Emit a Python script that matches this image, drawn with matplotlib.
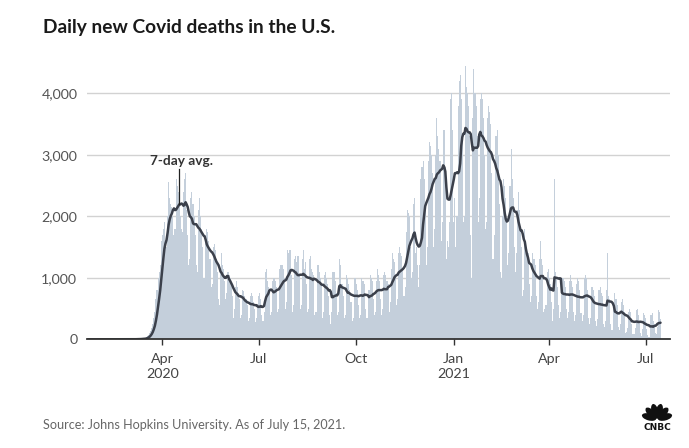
import matplotlib
matplotlib.use('Agg')
import matplotlib.pyplot as plt
from matplotlib.patches import Ellipse
import numpy as np
import pandas as pd

plt.rcParams['font.family'] = ['Lato', 'DejaVu Sans']

title = 'Daily new Covid deaths in the U.S.'
source = 'Source: Johns Hopkins University. As of July 15, 2021.'
first_day = '2020-01-22'
tick_dates = ['2020-04-01', '2020-07-01', '2020-10-01', '2021-01-01', '2021-04-01', '2021-07-01']
tick_labels = ['Apr\n2020', 'Jul', 'Oct', 'Jan\n2021', 'Apr', 'Jul']
y_ticks = [0, 1000, 2000, 3000, 4000]
label_date = '2020-04-17'

# daily deaths, Jan 22 - Dec 31 2020 (rows are Sunday-Saturday weeks)
deaths_2020 = [
    0, 0, 0, 0,
    0, 0, 0, 0, 0, 0, 0,  # Jan 26
    0, 0, 0, 0, 0, 0, 0,  # Feb 2
    0, 0, 0, 0, 0, 0, 0,  # Feb 9
    0, 0, 0, 0, 0, 0, 0,  # Feb 16
    0, 0, 0, 0, 0, 0, 1,  # Feb 23
    1, 1, 3, 2, 1, 1, 2,  # Mar 1
    3, 4, 5, 7, 8, 10, 12,  # Mar 8
    10, 20, 30, 50, 70, 100, 140,  # Mar 15
    180, 250, 350, 450, 650, 800, 1000,  # Mar 22
    1100, 1200, 1600, 1700, 1800, 1900, 1600,  # Mar 29
    1500, 2000, 2550, 2300, 2200, 2150, 2000,  # Apr 5
    1700, 1800, 2600, 2500, 2400, 2350, 2000,  # Apr 12
    1800, 1750, 2400, 2600, 2700, 2100, 1700,  # Apr 19
    1200, 1300, 2300, 2400, 2200, 2000, 1700,  # Apr 26
    1200, 1100, 2100, 2300, 2000, 1800, 1500,  # May 3
    1000, 1000, 1700, 1800, 1750, 1600, 1300,  # May 10
    850, 900, 1500, 1550, 1450, 1300, 1100,  # May 17
    650, 550, 1100, 1400, 1200, 1150, 950,  # May 24
    650, 750, 1100, 1050, 1000, 900, 700,  # May 31
    350, 500, 850, 950, 850, 750, 650,  # Jun 7
    350, 400, 800, 780, 700, 650, 550,  # Jun 14
    300, 350, 700, 750, 700, 600, 500,  # Jun 21
    280, 350, 550, 700, 750, 650, 400,  # Jun 28
    300, 450, 1100, 1150, 950, 850, 750,  # Jul 5
    400, 450, 950, 1000, 1000, 950, 850,  # Jul 12
    450, 500, 1150, 1200, 1200, 1150, 1000,  # Jul 19
    500, 600, 1450, 1400, 1450, 1450, 1050,  # Jul 26
    450, 550, 1300, 1350, 1250, 1350, 1050,  # Aug 2
    500, 550, 1300, 1450, 1150, 1250, 900,  # Aug 9
    450, 500, 1300, 1350, 1150, 1100, 1050,  # Aug 16
    400, 450, 1200, 1200, 1100, 1000, 900,  # Aug 23
    350, 450, 1050, 1100, 1000, 900, 700,  # Aug 30
    400, 250, 450, 1100, 1100, 950, 750,  # Sep 6
    400, 450, 1300, 1200, 900, 900, 700,  # Sep 13
    350, 400, 1050, 1000, 900, 800, 600,  # Sep 20
    300, 350, 1000, 1000, 900, 800, 550,  # Sep 27
    350, 400, 1000, 950, 950, 900, 500,  # Oct 4
    350, 350, 800, 1050, 1000, 950, 650,  # Oct 11
    400, 450, 950, 1150, 1050, 950, 650,  # Oct 18
    400, 500, 1050, 1100, 1050, 950, 900,  # Oct 25
    450, 600, 1150, 1400, 1300, 1250, 1050,  # Nov 1
    550, 650, 1400, 1500, 1400, 1350, 1150,  # Nov 8
    700, 850, 1750, 2100, 2050, 2000, 1500,  # Nov 15
    1000, 1100, 2200, 2300, 1400, 1500, 1200,  # Nov 22
    850, 1200, 2600, 2800, 2900, 2600, 2200,  # Nov 29
    1200, 1500, 2900, 3200, 3150, 3000, 2700,  # Dec 6
    1500, 1800, 3000, 3600, 3300, 3100, 2900,  # Dec 13
    1600, 1900, 3400, 3400, 2800, 1300, 1600,  # Dec 20
    1500, 1900, 3900, 4000, 3400,  # Dec 27-31
]

# daily deaths, Jan 1 - Jul 15 2021
deaths_2021 = [
    1900, 2300,  # Jan 1-2
    1500, 2000, 3800, 4200, 4300, 3900, 3300,  # Jan 3
    1900, 2000, 4450, 4100, 4000, 3800, 3300,  # Jan 10
    1700, 1000, 3600, 4400, 4000, 3800, 3300,  # Jan 17
    1900, 2300, 3900, 4000, 3900, 3600, 3000,  # Jan 24
    1800, 1900, 3600, 3800, 3700, 3500, 2700,  # Jan 31
    1300, 1700, 3300, 3300, 3400, 3000, 2200,  # Feb 7
    1100, 1000, 2000, 2600, 2500, 2300, 1900,  # Feb 14
    1200, 1400, 2500, 3100, 2600, 2300, 1500,  # Feb 21
    1100, 1400, 2100, 2400, 2100, 1800, 1500,  # Feb 28
    700, 800, 1800, 1600, 1500, 1400, 900,  # Mar 7
    600, 700, 1400, 1300, 1300, 1200, 700,  # Mar 14
    500, 600, 1300, 1600, 1300, 1200, 450,  # Mar 21
    500, 550, 1100, 1150, 1000, 900, 600,  # Mar 28
    300, 500, 2600, 1100, 1000, 850, 550,  # Apr 4
    350, 450, 1000, 1000, 950, 850, 500,  # Apr 11
    350, 450, 950, 1050, 950, 850, 450,  # Apr 18
    300, 400, 900, 1000, 950, 800, 430,  # Apr 25
    300, 400, 1000, 1050, 1000, 800, 350,  # May 2
    250, 350, 850, 850, 800, 700, 300,  # May 9
    220, 330, 800, 850, 750, 700, 250,  # May 16
    200, 300, 800, 1400, 700, 650, 250,  # May 23
    150, 150, 500, 750, 650, 550, 200,  # May 30
    150, 250, 600, 650, 550, 450, 100,  # Jun 6
    120, 180, 450, 500, 450, 250, 80,  # Jun 13
    80, 180, 480, 500, 400, 260, 100,  # Jun 20
    60, 160, 420, 400, 350, 170, 70,  # Jun 27
    30, 40, 400, 420, 300, 250, 100,  # Jul 4
    80, 200, 480, 450, 330,  # Jul 11-15
]

deaths = deaths_2020 + deaths_2021
days = pd.date_range(first_day, periods=len(deaths), freq='D')
avg7 = pd.Series(deaths, index=days).rolling(7, min_periods=1).mean()

fig = plt.figure(figsize=(6.89, 4.48), dpi=100)
ax = fig.add_axes([0.1263, 0.2426, 0.8462, 0.6179])

ax.bar(days, deaths, width=1.0, color='#c4cfdb', linewidth=0, zorder=2)
ax.plot(avg7.index, avg7.values, color='#3b404b', lw=1.8, zorder=3,
        solid_joinstyle='round', solid_capstyle='round')

ax.set_xlim(pd.Timestamp('2020-04-01') - pd.Timedelta(days=71),
            pd.Timestamp('2021-01-01') + pd.Timedelta(days=204))
ax.set_ylim(0, 4500)

ax.set_yticks(y_ticks)
ax.set_yticklabels([f'{v:,}' for v in y_ticks])
ax.set_xticks(pd.to_datetime(tick_dates))
ax.set_xticklabels(tick_labels)
for lbl in ax.get_xticklabels():
    lbl.set_linespacing(1.3)

ax.grid(axis='y', color='#d2d2d2', lw=1, zorder=0)
ax.set_axisbelow(True)
for side in ['top', 'right', 'left']:
    ax.spines[side].set_visible(False)
ax.spines['bottom'].set_color('#333333')
ax.spines['bottom'].set_linewidth(1.3)
ax.spines['bottom'].set_zorder(4)
ax.tick_params(axis='y', length=0, pad=7, labelsize=10.3, labelcolor='#555555')
ax.tick_params(axis='x', length=4, width=1, color='#333333', pad=6,
               labelsize=10.3, labelcolor='#444444')

# 7-day avg label
ld = pd.Timestamp(label_date)
ax.plot([ld, ld], [avg7[ld], 2770], color='#222222', lw=0.9, zorder=4)
ax.text(ld + pd.Timedelta(days=2), 2800, '7-day avg.', ha='center', va='bottom',
        fontsize=9.8, fontweight='bold', color='#333333')

fig.text(43 / 689, 1 - 33 / 448, title, fontsize=13.8, fontweight='bold',
         color='#1a1a1a', va='baseline')
fig.text(43 / 689, 1 - 429 / 448, source, fontsize=9.1, color='#666666',
         va='baseline')

# small peacock mark
lax = fig.add_axes([639 / 689, 1 - 431 / 448, 36 / 689, 28 / 448])
lax.set_xlim(-1.1, 1.1)
lax.set_ylim(-0.6, 1.1)
lax.axis('off')
for ang in np.linspace(165, 15, 6):
    a = np.radians(ang)
    lax.add_patch(Ellipse((0.5 * np.cos(a), 0.12 + 0.5 * np.sin(a)), 0.9, 0.42,
                          angle=ang, color='#111111', lw=0))
lax.text(0, -0.38, 'CNBC', ha='center', va='center', fontsize=6.5,
         fontweight='heavy', color='#111111', family='DejaVu Sans')

fig.savefig('out.png', dpi=100)
